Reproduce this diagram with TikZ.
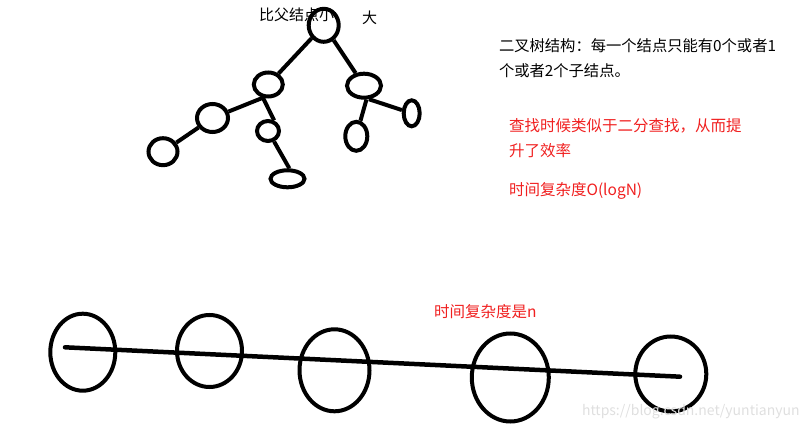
\documentclass[tikz,border=0pt]{standalone}
\usepackage{fontspec}
\setmainfont{Noto Sans CJK SC}
\usepackage{tikz}
\usetikzlibrary{shapes.geometric}
\definecolor{notered}{RGB}{240,32,32}

\begin{document}
\begin{tikzpicture}[x=1pt,y=-1pt,line width=4pt,
    knot/.style={draw,ellipse,inner sep=0pt},
    note/.style={anchor=base west,inner sep=0pt,font=\fontsize{15.3}{15}\selectfont},
    rednote/.style={note,text=notered,font=\fontsize{15.5}{16}\selectfont}]
  \useasboundingbox (0,0) rectangle (811,430);

  % labels
  \node[note,font=\fontsize{15}{15}\selectfont] (small) at (257,21) {比父结点小};
  \node[note,font=\fontsize{15}{15}\selectfont] (big)   at (360,24) {大};

  % tree
  \node[knot,minimum width=30,minimum height=33] (root) at (323.7,25.3)  {};
  \node[knot,minimum width=29,minimum height=24] (l)    at (268.3,84.5)  {};
  \node[knot,minimum width=34,minimum height=24] (r)    at (364,85.7)    {};
  \node[knot,minimum width=31,minimum height=28] (ll)   at (212.5,118)   {};
  \node[knot,minimum width=29,minimum height=27] (lll)  at (163,151.7)   {};
  \node[knot,minimum width=22,minimum height=20] (lm)   at (268,131)     {};
  \node[knot,minimum width=34,minimum height=17] (lmc)  at (287.5,178.8) {};
  \node[knot,minimum width=22,minimum height=29] (rl)   at (356.3,136.3) {};
  \node[knot,minimum width=16,minimum height=26] (rr)   at (411.7,113.3) {};

  \path[-] (root) edge (l)
                  edge (r)
           (l.-112) edge (ll)
                    edge (lm.60)
           (ll) edge (lll)
           (lm.-60) edge (lmc.80)
           (r.-80) edge (rl.75)
           (r.-70) edge (rr);

  % text on the right
  \node[note] (bt1) at (497,52) {二叉树结构：每一个结点只能有0个或者1};
  \node[note] (bt2) at (497,77) {个或者2个子结点。};
  \node[rednote] (find1) at (507,132) {查找时候类似于二分查找，从而提};
  \node[rednote] (find2) at (507,157) {升了效率};
  \node[rednote] (logn)  at (507,196) {时间复杂度O(logN)};
  \node[rednote] (linn)  at (432,317) {时间复杂度是n};

  % chain
  \node[knot,minimum width=65,minimum height=77] (c1) at (82.8,352.2)  {};
  \node[knot,minimum width=65,minimum height=72] (c2) at (209.5,351)   {};
  \node[knot,minimum width=70,minimum height=82] (c3) at (334.5,370.3) {};
  \node[knot,minimum width=77,minimum height=88] (c4) at (510.3,377.5) {};
  \node[knot,minimum width=71,minimum height=75] (c5) at (670.8,374)   {};
  \coordinate (chainstart) at (65,347.3);
  \coordinate (chainend)   at (680,376.7);
  \draw[line width=4.5pt,line cap=round] (chainstart) -- (chainend);

  \node[anchor=base west,inner sep=0pt,text=gray!25,font=\fontsize{14}{14}\selectfont]
    (mark) at (580,415) {https://blog.csdn.net/yuntianyun};
\end{tikzpicture}
\end{document}
